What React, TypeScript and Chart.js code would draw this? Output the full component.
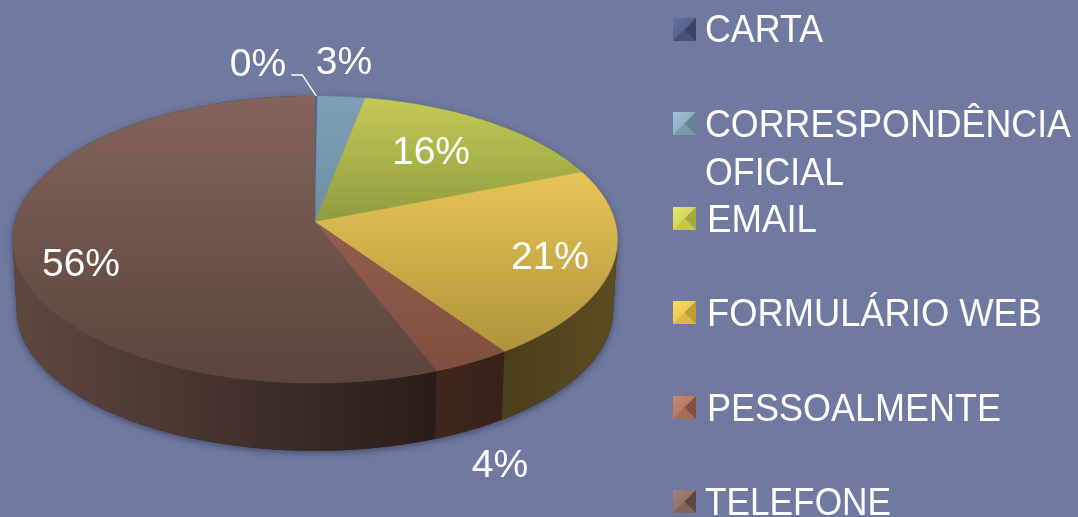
import React, { useEffect, useRef } from "react";
import { Chart, registerables } from "chart.js";

Chart.register(...registerables);

const categories = ["CARTA", "CORRESPONDÊNCIA OFICIAL", "EMAIL", "FORMULÁRIO WEB", "PESSOALMENTE", "TELEFONE"];
const shares = [0.15, 2.85, 16, 21.4, 3.76, 55.84];
const shownLabels = ["0%", "3%", "16%", "21%", "4%", "56%"];

const BG = "#707aa0";
const FONT = '39px "Liberation Sans", Arimo, sans-serif';
const LABEL_FONT = '39px "Liberation Sans", Arimo, sans-serif';

// face: top-to-bottom gradient of the lid, side: left-to-right gradient of the wall
const sliceStyles = [
  { face: ["#4f5f93", "#475686"], side: ["#2c3555", "#2c3555"], key: ["#66739f", "#47527a", "#3a4566"] },
  { face: ["#7ea0b6", "#6c8fa5"], side: ["#3a4f5c", "#3a4f5c"], key: ["#a2c5da", "#7d9aa8", "#658290"] },
  { face: ["#c4c957", "#8f9b3e"], side: ["#55592a", "#55592a"], key: ["#e6e86b", "#c4c650", "#a8a940"] },
  { face: ["#e8c557", "#af933c"], side: ["#4a3e1b", "#5c4c22"], key: ["#fcdc5e", "#dcb846", "#c09d38"] },
  { face: ["#935d4c", "#7e4f40"], side: ["#3f261d", "#38211a"], key: ["#c9886f", "#a56c56", "#7f5241"] },
  { face: ["#83645b", "#5a443b"], side: ["#5e4840", "#281c19"], key: ["#a3837a", "#7f6459", "#5e4840"] },
];

const labelSpots = [
  [258, 65], [344, 63], [431, 153], [550, 258], [500, 466], [81, 265],
];
const legendLayout = {
  boxX: 673, boxSize: 23, textX: 705, width: 364,
  rows: [[18, 42], [112, 137], [207, 232], [301, 326], [396, 421], [490, 515]],
  secondLineY: 185, wrapAfter: "CORRESPONDÊNCIA",
};
const legendWidths = [118, 366, 110, 335, 294, 186];

// Perspective mapping of the pie disc to the screen
const lid = { cx: 315, y0: 222, a: 300.2, b: 141.4, k: 0.122 };
const foot = { cx: 315, y0: 292.5, a: 296, b: 139, k: 0.122 };

function rim(p: typeof lid, theta: number, r = 1) {
  const u = r * Math.sin(theta);
  const v = -r * Math.cos(theta);
  const d = 1 - p.k * v;
  return [p.cx + (p.a * u) / d, p.y0 + (p.b * v) / d];
}

function rimPoints(p: typeof lid, t1: number, t2: number) {
  const n = Math.max(2, Math.ceil(Math.abs(t2 - t1) / 0.01));
  const pts: number[][] = [];
  for (let i = 0; i <= n; i++) pts.push(rim(p, t1 + ((t2 - t1) * i) / n));
  return pts;
}

function trace(ctx: CanvasRenderingContext2D, pts: number[][]) {
  ctx.beginPath();
  pts.forEach(([x, y], i) => (i ? ctx.lineTo(x, y) : ctx.moveTo(x, y)));
  ctx.closePath();
}

function bounds(pts: number[][]) {
  const xs = pts.map((q) => q[0]);
  const ys = pts.map((q) => q[1]);
  return { x0: Math.min(...xs), x1: Math.max(...xs), y0: Math.min(...ys), y1: Math.max(...ys) };
}

// ruled surface between the two rims, as a path of small quads
function wallPath(ctx: CanvasRenderingContext2D, t1: number, t2: number) {
  const a = rimPoints(lid, t1, t2);
  const b = rimPoints(foot, t1, t2);
  ctx.beginPath();
  for (let i = 0; i < a.length - 1; i++) {
    const quad = [a[i], a[i + 1], b[i + 1], b[i]];
    // keep one winding for every quad so the nonzero rule leaves no holes
    const area =
      (quad[1][0] - quad[0][0]) * (quad[2][1] - quad[0][1]) - (quad[1][1] - quad[0][1]) * (quad[2][0] - quad[0][0]);
    const q = area < 0 ? [...quad].reverse() : quad;
    q.forEach(([x, y], j) => (j ? ctx.lineTo(x, y) : ctx.moveTo(x, y)));
    ctx.closePath();
  }
}

const pie3d = {
  id: "pie3d",
  beforeDraw(chart: any) {
    const { ctx, width, height } = chart;
    ctx.save();
    ctx.fillStyle = BG;
    ctx.fillRect(0, 0, width, height);
    ctx.restore();
  },
  beforeDatasetDraw() {
    return false;
  },
  afterDatasetsDraw(chart: any) {
    const { ctx } = chart;
    const arcs = chart.getDatasetMeta(0).data;
    const angles = arcs.map((a: any) => [a.startAngle + Math.PI / 2, a.endAngle + Math.PI / 2]);
    ctx.save();

    // soft shadow of the whole body
    ctx.save();
    ctx.shadowColor = "rgba(30,35,60,0.55)";
    ctx.shadowBlur = 7;
    ctx.shadowOffsetY = 2;
    ctx.fillStyle = "#33261f";
    wallPath(ctx, 0, Math.PI * 2);
    ctx.fill();
    ctx.restore();

    // walls
    angles.forEach(([t1, t2]: number[], i: number) => {
      const b = bounds([...rimPoints(lid, t1, t2), ...rimPoints(foot, t1, t2)]);
      const g = ctx.createLinearGradient(b.x0, 0, b.x1, 0);
      g.addColorStop(0, sliceStyles[i].side[0]);
      g.addColorStop(1, sliceStyles[i].side[1]);
      wallPath(ctx, t1, t2);
      ctx.fillStyle = g;
      ctx.fill();
    });

    // lids
    const centre = rim(lid, 0, 0);
    angles.forEach(([t1, t2]: number[], i: number) => {
      const pts = [centre, ...rimPoints(lid, t1, t2)];
      const b = bounds(pts);
      const g = ctx.createLinearGradient(0, b.y0, 0, b.y1);
      g.addColorStop(0, sliceStyles[i].face[0]);
      g.addColorStop(1, sliceStyles[i].face[1]);
      trace(ctx, pts);
      ctx.fillStyle = g;
      ctx.fill();
      ctx.strokeStyle = g;
      ctx.lineWidth = 0.6;
      ctx.stroke();
    });

    // leader line for the thin first slice
    const mid = (angles[0][0] + angles[0][1]) / 2;
    const [lx, ly] = rim(lid, mid);
    ctx.beginPath();
    ctx.moveTo(lx - 25, ly - 21);
    ctx.lineTo(lx - 14, ly - 21);
    ctx.lineTo(lx, ly);
    ctx.strokeStyle = "#ffffff";
    ctx.lineWidth = 1.4;
    ctx.stroke();

    // data labels
    ctx.fillStyle = "#ffffff";
    ctx.font = LABEL_FONT;
    ctx.textAlign = "center";
    ctx.textBaseline = "middle";
    shownLabels.forEach((t, i) => ctx.fillText(t, labelSpots[i][0], labelSpots[i][1]));

    // legend
    ctx.textAlign = "left";
    ctx.textBaseline = "alphabetic";
    ctx.font = FONT;
    const L = legendLayout;
    (chart.data.labels as string[]).forEach((name, i) => {
      const [by, ty] = L.rows[i];
      const s = L.boxSize;
      const x = L.boxX;
      const [c1, c2, c3] = sliceStyles[i].key;
      const mx = x + s / 2;
      const my = by + s / 2;
      const g = ctx.createLinearGradient(x, by, x + s, by + s);
      g.addColorStop(0, c1);
      g.addColorStop(1, c2);
      ctx.fillStyle = g;
      ctx.fillRect(x, by, s, s);
      ctx.fillStyle = c2;
      ctx.beginPath();
      ctx.moveTo(x, by + s);
      ctx.lineTo(x + s, by + s);
      ctx.lineTo(mx, my);
      ctx.closePath();
      ctx.fill();
      ctx.fillStyle = c3;
      ctx.beginPath();
      ctx.moveTo(x + s, by);
      ctx.lineTo(x + s, by + s);
      ctx.lineTo(mx, my);
      ctx.closePath();
      ctx.fill();
      ctx.fillStyle = "#ffffff";
      if (name.startsWith(L.wrapAfter)) {
        ctx.fillText(L.wrapAfter, L.textX, ty, legendWidths[i]);
        const rest = name.slice(L.wrapAfter.length + 1);
        ctx.fillText(rest, L.textX, L.secondLineY, 139);
      } else {
        ctx.fillText(name, L.textX + (name[0] === "E" || name[0] === "F" || name[0] === "P" ? 2 : 0), ty, legendWidths[i]);
      }
    });
    ctx.restore();
  },
};

export default function App() {
  const ref = useRef<HTMLCanvasElement>(null);
  useEffect(() => {
    const chart = new Chart(ref.current as HTMLCanvasElement, {
      type: "pie",
      data: {
        labels: categories,
        datasets: [{ data: shares, backgroundColor: sliceStyles.map((s) => s.face[0]), borderWidth: 0 }],
      },
      options: {
        animation: false,
        responsive: false,
        plugins: { legend: { display: false }, tooltip: { enabled: false } },
      },
      plugins: [pie3d],
    } as any);
    return () => chart.destroy();
  }, []);
  return (
    <div style={{ position: "fixed", left: 0, top: 0, width: 1078, height: 517, background: BG }}>
      <canvas ref={ref} width={1078} height={517} style={{ display: "block" }} />
    </div>
  );
}
